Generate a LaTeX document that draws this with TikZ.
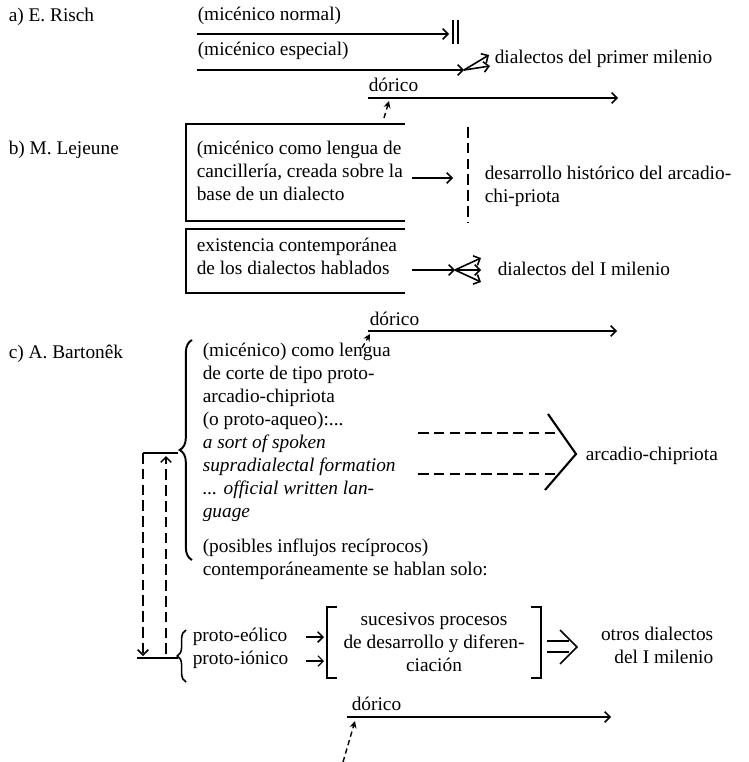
\documentclass[tikz,border=0pt]{standalone}
\usepackage{fontspec}
\setmainfont{Liberation Serif}
\usetikzlibrary{arrows.meta,decorations.pathreplacing}

\begin{document}
\begin{tikzpicture}[x=0.2mm,y=-0.2mm,line width=0.9pt,>={Straight Barb[length=3pt,width=6pt]},
  every node/.style={inner sep=0pt,font=\fontsize{11}{13.1}\selectfont},
  caja/.style={line width=1.2pt},
  guion/.style={dash pattern=on 6pt off 3pt},
  puntero/.style={dash pattern=on 3pt off 2pt,line width=0.8pt,-{Stealth[length=4pt,width=4pt]}}]
\useasboundingbox (0,0) rectangle (749,762);
% a) Risch
\node[anchor=base west] (risch) at (8,22) {a) E. Risch};
\node[anchor=base west] (normal) at (197,21) {(micénico normal)};
\node[anchor=base west] (especial) at (197,56) {(micénico especial)};
\node[anchor=base west] (milenioA) at (494,64) {dialectos del primer milenio};
\coordinate (a1) at (197,34);
\coordinate (a2) at (449,34);
\draw[->] (a1) -- (a2);
\draw (453,20) -- (453,44) (458,20) -- (458,44);
\coordinate (a3) at (197,70);
\coordinate (a4) at (464,70);
\coordinate (a5) at (489,55);
\coordinate (a6) at (490,66);
\draw[->] (a3) -- (a4);
\draw[->] (a4) -- (a5);
\draw[->] (a4) -- (a6);
% dorico (a)
\node[anchor=base west] (doricoA) at (368,92) {dórico};
\coordinate (da1) at (368,98);
\coordinate (da2) at (618,98);
\coordinate (da3) at (384,118);
\draw[->] (da1) -- (da2);
\draw[puntero] (da3) -- (389,101);
% b) Lejeune
\node[anchor=base west] (lejeune) at (8,155) {b) M. Lejeune};
\draw[caja] (405,124) -- (186,124) -- (186,221) -- (405,221);
\node[anchor=north west,align=left] (canc) at (196,140)
  {(micénico como lengua de\\cancillería, creada sobre la\\base de un dialecto};
\coordinate (b1) at (412,178);
\coordinate (b2) at (453,178);
\draw[->] (b1) -- (b2);
\draw[guion] (468,127) -- (468,223);
\node[anchor=north west,align=left] (desarr) at (484,165)
  {desarrollo histórico del arcadio-\\chi-priota};
\draw[caja] (405,229) -- (186,229) -- (186,293) -- (405,293);
\node[anchor=north west,align=left] (exist) at (196,237)
  {existencia contemporánea\\de los dialectos hablados};
\coordinate (b3) at (412,270);
\coordinate (b4) at (455,270);
\draw[->] (b3) -- (b4);
\foreach \dy in {-12,0,12}
  \draw[->] (b4) -- ++(26,\dy);
\node[anchor=base west] (milenioB) at (497,275) {dialectos del I milenio};
% dorico (b)
\node[anchor=base west] (doricoB) at (369,325) {dórico};
\coordinate (db1) at (368,331);
\coordinate (db2) at (617,331);
\coordinate (db3) at (362,348);
\draw[->] (db1) -- (db2);
\draw[puntero] (db3) -- (370,334);
% c) Bartonek
\node[anchor=base west] (bartonek) at (8,358) {c) A. Bartonêk};
\draw[line width=1.1pt,decorate,decoration={brace,amplitude=7pt}] (192,560) -- (192,340);
\node[anchor=north west,align=left] (corte) at (202,342)
  {(micénico) como lengua\\de corte de tipo proto-\\arcadio-chipriota\\(o proto-aqueo):...\\
   \textit{a sort of spoken}\\\textit{supradialectal formation}\\\textit{... official written lan-}\\\textit{guage}};
\node[anchor=north west,align=left] (influjos) at (202,538)
  {(posibles influjos recíprocos)\\contemporáneamente se hablan solo:};
\draw[guion,line width=1.2pt] (418,433) -- (560,433) (418,474) -- (558,474);
\draw[line width=1.2pt] (548,414) -- (576,454) -- (545,490);
\node[anchor=base west] (arcadio) at (585,460) {arcadio-chipriota};
% influjos reciprocos
\coordinate (l1) at (178,453);
\coordinate (l2) at (143,453);
\coordinate (l3) at (143,656);
\coordinate (l4) at (137,658);
\coordinate (l5) at (178,658);
\coordinate (l6) at (166,654);
\coordinate (l7) at (166,456);
\draw (l1) -- (l2);
\draw[guion,->] (l2) -- (l3);
\draw (l4) -- (l5);
\draw[guion,->] (l6) -- (l7);
\draw[decorate,decoration={brace,amplitude=5pt}] (186,682) -- (186,630);
\node[anchor=north west,align=left] (protos) at (192,627) {proto-eólico\\proto-iónico};
\coordinate (p1) at (306,637);
\coordinate (p2) at (324,637);
\coordinate (p3) at (306,661);
\coordinate (p4) at (324,661);
\draw[->] (p1) -- (p2);
\draw[->,line width=0.7pt] (p3) -- (p4);
\draw[caja] (337,607) -- (327,607) -- (327,678) -- (337,678);
\draw[caja] (531,607) -- (541,607) -- (541,678) -- (531,678);
\node[align=center] (procesos) at (434,642)
  {sucesivos procesos\\de desarrollo y diferen-\\ciación};
\draw (547,641) -- (569,641) (547,652) -- (569,652);
\draw (560,630) -- (577,647) -- (560,664);
\node[anchor=north east,align=right] (otros) at (714,626) {otros dialectos\\del I milenio};
% dorico (c)
\node[anchor=base west] (doricoC) at (351,710) {dórico};
\coordinate (dc1) at (347,717);
\coordinate (dc2) at (611,717);
\coordinate (dc3) at (343,762);
\draw[->] (dc1) -- (dc2);
\draw[puntero] (dc3) -- (355,721);
\end{tikzpicture}
\end{document}
